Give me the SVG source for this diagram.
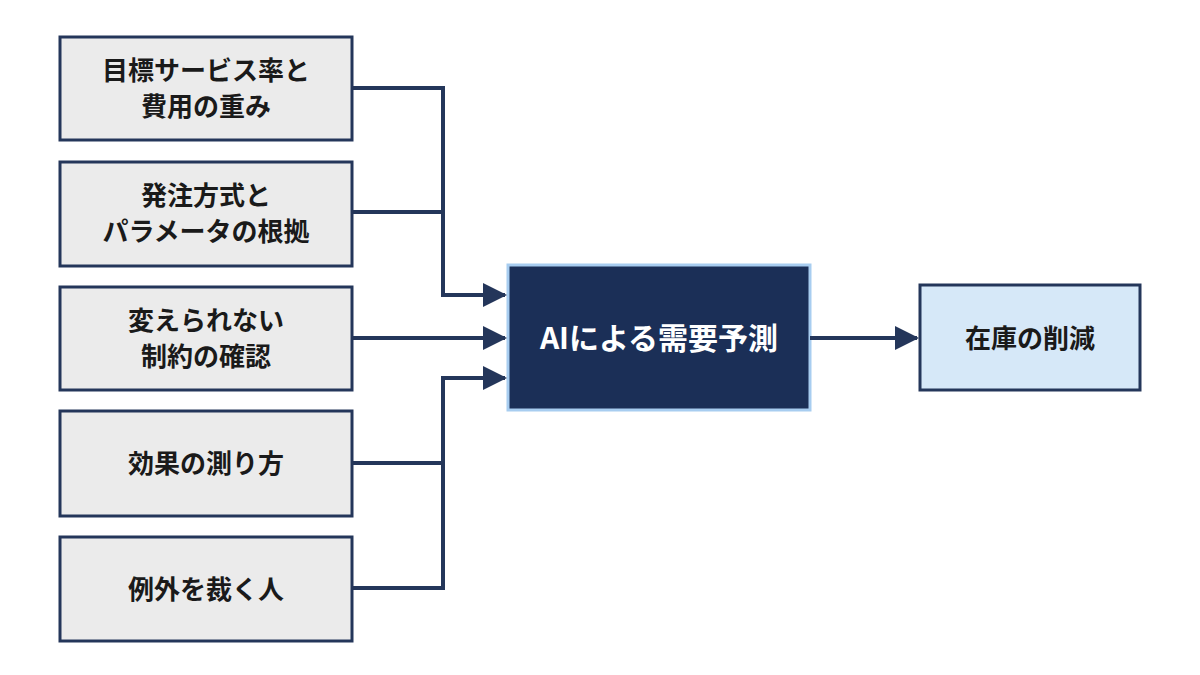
<svg xmlns="http://www.w3.org/2000/svg" width="1200" height="675" viewBox="0 0 1200 675">
<style>
.in{fill:#ebebeb;stroke:#24365a;stroke-width:3}
.t{font-family:"Noto Sans CJK JP","Noto Sans",sans-serif;font-weight:bold;font-size:26px;fill:#1a1a1a;text-anchor:middle}
.c{fill:none;stroke:#24365a;stroke-width:4}
</style>
<defs><marker id="a" markerWidth="6" markerHeight="6" refX="5.5" refY="3" orient="auto" markerUnits="strokeWidth"><path d="M0,0L6,3L0,6z" fill="#24365a"/></marker></defs>
<rect width="1200" height="675" fill="#fff"/>
<g id="n1"><rect class="in" x="60" y="37" width="292" height="103"/><text class="t" x="206" y="80">目標サービス率と</text><text class="t" x="206" y="116">費用の重み</text></g>
<g id="n2"><rect class="in" x="60" y="162" width="292" height="104"/><text class="t" x="206" y="205">発注方式と</text><text class="t" x="206" y="241">パラメータの根拠</text></g>
<g id="n3"><rect class="in" x="60" y="287" width="292" height="103"/><text class="t" x="206" y="330">変えられない</text><text class="t" x="206" y="366">制約の確認</text></g>
<g id="n4"><rect class="in" x="60" y="411" width="292" height="105"/><text class="t" x="206" y="473">効果の測り方</text></g>
<g id="n5"><rect class="in" x="60" y="537" width="292" height="104"/><text class="t" x="206" y="599">例外を裁く人</text></g>
<g id="ai"><rect x="508" y="265" width="302" height="145" fill="#1b2f57" stroke="#a8cdf0" stroke-width="3"/><text class="t" x="659" y="349" style="fill:#fff;font-size:30px">AIによる需要予測</text></g>
<g id="out"><rect x="920" y="285" width="220" height="105" fill="#d6e8f8" stroke="#24365a" stroke-width="3"/><text class="t" x="1030" y="348">在庫の削減</text></g>
<g id="connectors">
<path class="c" d="M352,88H443V295H505" marker-end="url(#a)"/>
<path class="c" d="M352,212H443"/>
<path class="c" d="M352,338H505" marker-end="url(#a)"/>
<path class="c" d="M352,588H443V378H505" marker-end="url(#a)"/>
<path class="c" d="M352,463H443"/>
<path class="c" d="M810,338H917" marker-end="url(#a)"/>
</g>
</svg>
